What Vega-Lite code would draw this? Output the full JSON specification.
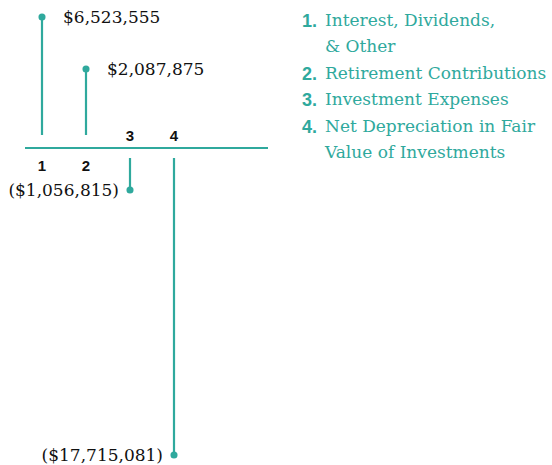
{
  "$schema": "https://vega.github.io/schema/vega-lite/v6.json",
  "width": 552,
  "height": 465,
  "autosize": {"type": "fit", "contains": "padding"},
  "padding": 0,
  "background": "white",
  "config": {"view": {"stroke": null}},
  "datasets": {
    "main": [
      {"cat": 1, "name": "1", "value": 6523555, "label": "$6,523,555"},
      {"cat": 2, "name": "2", "value": 2087875, "label": "$2,087,875"},
      {"cat": 3, "name": "3", "value": -1056815, "label": "($1,056,815)"},
      {"cat": 4, "name": "4", "value": -17715081, "label": "($17,715,081)"}
    ],
    "legend": [
      {"line": 1, "num": "1.", "text": "Interest, Dividends,"},
      {"line": 2, "num": "", "text": "& Other"},
      {"line": 3, "num": "2.", "text": "Retirement Contributions"},
      {"line": 4, "num": "3.", "text": "Investment Expenses"},
      {"line": 5, "num": "4.", "text": "Net Depreciation in Fair"},
      {"line": 6, "num": "", "text": "Value of Investments"}
    ]
  },
  "resolve": {"scale": {"y": "independent"}},
  "layer": [
    {
      "data": {"name": "main"},
      "encoding": {
        "x": {"field": "cat", "type": "quantitative", "axis": null,
              "scale": {"domain": [1, 4], "range": [42, 174], "nice": false, "zero": false}}
      },
      "layer": [
        {
          "mark": {"type": "rule", "color": "#2fa99d", "strokeWidth": 1.5},
          "encoding": {
            "x": {"datum": 0.6136},
            "x2": {"datum": 6.136},
            "y": {"datum": 0, "type": "quantitative", "axis": null,
                  "scale": {"type": "linear", "nice": false, "zero": false, "domain": [-17715081, -1056815, 0, 2087875, 6523555], "range": [455, 190, 148, 69, 17]}}
          }
        },
        {
          "transform": [{"filter": "datum.value > 0"}],
          "mark": {"type": "rule", "color": "#2fa99d", "strokeWidth": 2.2, "y2Offset": -13},
          "encoding": {
            "y": {"field": "value", "type": "quantitative"},
            "y2": {"datum": 0}
          }
        },
        {
          "transform": [{"filter": "datum.value < 0"}],
          "mark": {"type": "rule", "color": "#2fa99d", "strokeWidth": 2.2, "y2Offset": 10},
          "encoding": {
            "y": {"field": "value", "type": "quantitative"},
            "y2": {"datum": 0}
          }
        },
        {
          "mark": {"type": "circle", "color": "#2fa99d", "opacity": 1, "size": 50},
          "encoding": {"y": {"field": "value", "type": "quantitative"}}
        },
        {
          "transform": [{"filter": "datum.value > 0"}],
          "mark": {"type": "text", "align": "left", "baseline": "middle", "dx": 21, "dy": 1, "font": "DejaVu Serif", "fontSize": 17, "color": "#111111"},
          "encoding": {"y": {"field": "value", "type": "quantitative"}, "text": {"field": "label"}}
        },
        {
          "transform": [{"filter": "datum.value < 0"}],
          "mark": {"type": "text", "align": "right", "baseline": "middle", "dx": -11, "dy": 1, "font": "DejaVu Serif", "fontSize": 17, "color": "#111111"},
          "encoding": {"y": {"field": "value", "type": "quantitative"}, "text": {"field": "label"}}
        },
        {
          "transform": [{"filter": "datum.value > 0"}],
          "mark": {"type": "text", "align": "center", "baseline": "middle", "dy": 18, "font": "Liberation Sans", "fontWeight": "bold", "fontSize": 15, "color": "#111111"},
          "encoding": {"y": {"datum": 0}, "text": {"field": "name"}}
        },
        {
          "transform": [{"filter": "datum.value < 0"}],
          "mark": {"type": "text", "align": "center", "baseline": "middle", "dy": -12, "font": "Liberation Sans", "fontWeight": "bold", "fontSize": 15, "color": "#111111"},
          "encoding": {"y": {"datum": 0}, "text": {"field": "name"}}
        }
      ]
    },
    {
      "data": {"name": "legend"},
      "encoding": {
        "y": {"field": "line", "type": "quantitative", "axis": null,
              "scale": {"domain": [1, 6], "range": [20.5, 153], "nice": false, "zero": false}}
      },
      "layer": [
        {
          "mark": {"type": "text", "align": "left", "baseline": "middle", "dy": 1, "font": "Liberation Sans", "fontWeight": "bold", "fontSize": 18, "color": "#2fa99d"},
          "encoding": {"x": {"datum": 6.909}, "text": {"field": "num"}}
        },
        {
          "mark": {"type": "text", "align": "left", "baseline": "middle", "font": "DejaVu Serif", "fontSize": 17, "color": "#2fa99d"},
          "encoding": {"x": {"datum": 7.432}, "text": {"field": "text"}}
        }
      ]
    }
  ]
}
